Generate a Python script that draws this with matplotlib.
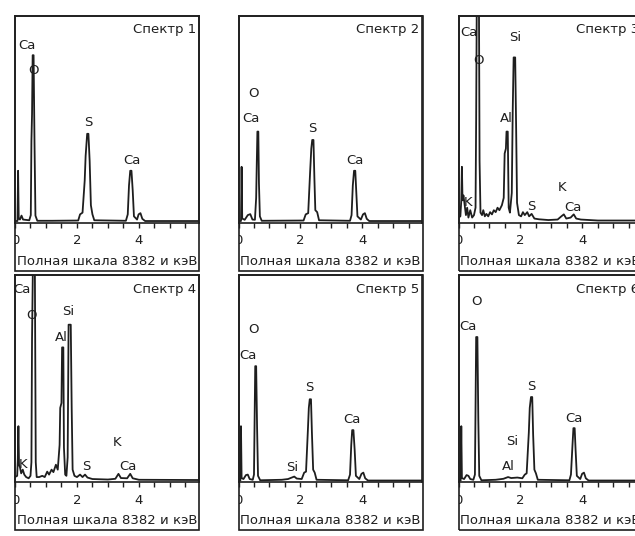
import numpy as np
import matplotlib.pyplot as plt
from matplotlib.patches import Rectangle
from matplotlib.ticker import MultipleLocator

plt.rcParams['font.family'] = ['DejaVu Sans']

# ==========================================
# DATA (keV, counts)
# ==========================================
FULL_SCALE = 8382
E_MAX = 5.94

titles = ["Спектр 1", "Спектр 2", "Спектр 3", "Спектр 4", "Спектр 5", "Спектр 6"]
caption = "Полная шкала 8382 и кэВ"
tick_values = [0, 2, 4]

spectrum_1 = [(0.00, 60), (0.08, 60), (0.10, 2100), (0.12, 160), (0.16, 120), (0.21, 280),
              (0.26, 120), (0.46, 90), (0.51, 300), (0.53, 3300), (0.55, 4400), (0.57, 6790),
              (0.60, 6790), (0.63, 3200), (0.66, 280), (0.72, 70), (1.20, 70), (2.04, 80),
              (2.10, 330), (2.18, 400), (2.25, 1700), (2.28, 2700), (2.33, 3600), (2.37, 3600),
              (2.41, 2500), (2.45, 700), (2.50, 330), (2.56, 90), (3.58, 70), (3.64, 330),
              (3.68, 1500), (3.72, 2100), (3.76, 2100), (3.80, 1300), (3.84, 250), (3.94, 120),
              (3.99, 330), (4.05, 380), (4.11, 150), (4.20, 60), (5.94, 60)]

spectrum_2 = [(0.00, 60), (0.08, 60), (0.10, 2260), (0.12, 160), (0.20, 110), (0.30, 300),
              (0.38, 340), (0.45, 120), (0.53, 110), (0.57, 1000), (0.59, 2400), (0.61, 3690),
              (0.64, 3690), (0.66, 1600), (0.69, 250), (0.75, 70), (2.10, 80), (2.17, 330),
              (2.25, 380), (2.31, 2000), (2.35, 3000), (2.38, 3350), (2.42, 3350), (2.45, 1800),
              (2.48, 500), (2.54, 420), (2.60, 90), (3.60, 70), (3.65, 300), (3.69, 1500),
              (3.73, 2100), (3.77, 2100), (3.80, 1300), (3.84, 250), (3.95, 120), (4.02, 330),
              (4.08, 380), (4.14, 150), (4.22, 60), (5.94, 60)]

spectrum_3 = [(0.00, 200), (0.06, 250), (0.09, 900), (0.11, 2260), (0.13, 900), (0.16, 1100),
              (0.20, 700), (0.24, 300), (0.28, 600), (0.32, 200), (0.38, 500), (0.44, 200),
              (0.50, 300), (0.55, 600), (0.57, 4200), (0.59, 9000), (0.66, 9000), (0.68, 2500),
              (0.71, 400), (0.76, 300), (0.80, 500), (0.85, 250), (0.90, 350), (0.96, 250),
              (1.02, 420), (1.08, 330), (1.14, 500), (1.20, 420), (1.26, 600), (1.32, 500),
              (1.40, 700), (1.46, 1000), (1.49, 2800), (1.53, 3000), (1.55, 3690), (1.59, 3690),
              (1.62, 600), (1.66, 400), (1.72, 1200), (1.75, 4500), (1.78, 6700), (1.83, 6700),
              (1.86, 3900), (1.89, 800), (1.95, 300), (2.02, 250), (2.08, 420), (2.14, 300),
              (2.22, 420), (2.28, 250), (2.36, 350), (2.45, 160), (2.60, 130), (2.90, 100),
              (3.20, 120), (3.32, 250), (3.40, 330), (3.48, 160), (3.62, 200), (3.72, 330),
              (3.80, 160), (3.95, 120), (4.50, 80), (5.94, 80)]

spectrum_4 = [(0.00, 200), (0.07, 250), (0.09, 900), (0.11, 2260), (0.13, 700), (0.16, 600),
              (0.20, 350), (0.25, 500), (0.30, 300), (0.36, 200), (0.44, 150), (0.50, 250),
              (0.53, 800), (0.55, 5800), (0.58, 9000), (0.64, 9000), (0.67, 800), (0.70, 200),
              (0.78, 200), (0.88, 250), (0.96, 200), (1.04, 420), (1.10, 300), (1.18, 500),
              (1.24, 400), (1.32, 700), (1.38, 500), (1.44, 1500), (1.46, 3000), (1.50, 3200),
              (1.52, 5450), (1.56, 5450), (1.58, 1400), (1.62, 300), (1.66, 250), (1.70, 1000),
              (1.73, 6370), (1.80, 6370), (1.83, 3000), (1.86, 500), (1.92, 250), (2.00, 200),
              (2.10, 300), (2.18, 200), (2.26, 300), (2.34, 180), (2.50, 120), (3.00, 100),
              (3.24, 130), (3.34, 330), (3.42, 160), (3.62, 150), (3.72, 330), (3.80, 150),
              (4.00, 90), (5.94, 80)]

spectrum_5 = [(0.00, 60), (0.06, 60), (0.08, 2260), (0.10, 160), (0.16, 120), (0.24, 280),
              (0.30, 300), (0.36, 120), (0.46, 90), (0.50, 300), (0.52, 2500), (0.54, 4690),
              (0.57, 4690), (0.60, 2200), (0.63, 250), (0.70, 70), (1.40, 90), (1.60, 120),
              (1.72, 180), (1.80, 220), (1.88, 140), (2.04, 120), (2.12, 380), (2.18, 420),
              (2.24, 2100), (2.27, 3000), (2.30, 3350), (2.34, 3350), (2.37, 2000), (2.41, 500),
              (2.46, 380), (2.52, 90), (3.54, 70), (3.60, 300), (3.64, 1500), (3.67, 2100),
              (3.71, 2100), (3.75, 1300), (3.79, 250), (3.90, 120), (3.97, 330), (4.03, 380),
              (4.09, 150), (4.18, 60), (5.94, 60)]

spectrum_6 = [(0.00, 60), (0.07, 60), (0.09, 2260), (0.11, 160), (0.18, 120), (0.26, 280),
              (0.32, 250), (0.38, 120), (0.48, 90), (0.53, 300), (0.55, 3000), (0.57, 5870),
              (0.61, 5870), (0.64, 2500), (0.67, 250), (0.74, 70), (1.20, 90), (1.45, 130),
              (1.60, 200), (1.70, 160), (1.90, 180), (2.06, 150), (2.14, 300), (2.20, 350),
              (2.27, 2000), (2.30, 3000), (2.34, 3440), (2.38, 3440), (2.41, 1900), (2.45, 500),
              (2.50, 350), (2.56, 90), (3.58, 70), (3.63, 300), (3.68, 1500), (3.71, 2180),
              (3.75, 2180), (3.78, 1300), (3.82, 250), (3.93, 120), (3.99, 330), (4.05, 380),
              (4.11, 150), (4.20, 60), (5.94, 60)]

# element labels: (text, keV, counts)
labels_1 = [("Ca", 0.37, 7190), ("O", 0.60, 6180), ("S", 2.36, 4070), ("Ca", 3.76, 2530)]
labels_2 = [("O", 0.48, 5245), ("Ca", 0.39, 4230), ("S", 2.39, 3830), ("Ca", 3.76, 2530)]
labels_3 = [("Ca", 0.34, 7715), ("O", 0.64, 6580), ("K", 0.32, 830), ("Al", 1.53, 4230),
            ("Si", 1.82, 7510), ("S", 2.36, 630), ("K", 3.33, 1440), ("Ca", 3.70, 590)]
labels_4 = [("Ca", 0.24, 7780), ("O", 0.54, 6760), ("K", 0.27, 690), ("Al", 1.51, 5870),
            ("Si", 1.72, 6885), ("S", 2.31, 610), ("K", 3.28, 1580), ("Ca", 3.66, 610)]
labels_5 = [("O", 0.48, 6160), ("Ca", 0.32, 5140), ("Si", 1.72, 570), ("S", 2.28, 3810),
            ("Ca", 3.65, 2550)]
labels_6 = [("O", 0.59, 7290), ("Ca", 0.32, 6280), ("Si", 1.72, 1620), ("Al", 1.61, 610),
            ("S", 2.36, 3850), ("Ca", 3.73, 2590)]

spectra = [spectrum_1, spectrum_2, spectrum_3, spectrum_4, spectrum_5, spectrum_6]
labels = [labels_1, labels_2, labels_3, labels_4, labels_5, labels_6]

# ==========================================
# LAYOUT (pixels of the 635x536 picture)
# ==========================================
W, H = 635, 536
col_left = [15, 238.5, 458.5]
panel_w = 184
row_top = [16, 275]
row_axis = [222.5, 482]
row_bottom = [271, 530]

INK = '#1e1e1e'
FS = 9.5

fig = plt.figure(figsize=(W / 100, H / 100), dpi=100)

for i, (spec, labs) in enumerate(zip(spectra, labels)):
    r, c = divmod(i, 3)
    left, top, axis_y, bottom = col_left[c], row_top[r], row_axis[r], row_bottom[r]

    ax = fig.add_axes([left / W, 1 - axis_y / H, panel_w / W, (axis_y - top) / H])
    e, counts = np.array(spec).T
    ax.plot(e, counts, color=INK, lw=1.3)
    ax.set_xlim(0, E_MAX)
    ax.set_ylim(0, FULL_SCALE)
    ax.set_yticks([])
    ax.xaxis.set_major_locator(MultipleLocator(2))
    ax.xaxis.set_minor_locator(MultipleLocator(0.5))
    ax.set_xticks(tick_values)
    ax.set_xticklabels([str(v) for v in tick_values])
    ax.tick_params(axis='x', which='both', direction='out', length=3.5, width=1,
                   color=INK, pad=5, labelsize=FS, labelcolor=INK)
    for sp in ax.spines.values():
        sp.set_linewidth(1.2)
        sp.set_color(INK)

    # outer frame around plot + caption
    frame = Rectangle((left / W, 1 - bottom / H), panel_w / W, (bottom - top) / H,
                      transform=fig.transFigure, fill=False, lw=1.2, ec=INK)
    fig.add_artist(frame)
    for lab in ax.get_xticklabels():
        lab.set_clip_path(frame)

    ax.text(1 - 3 / panel_w, 1 - 14 / (axis_y - top), titles[i], transform=ax.transAxes,
            ha='right', va='center', fontsize=FS, color=INK)
    fig.text((left + panel_w / 2) / W, 1 - (axis_y + 39) / H, caption,
             ha='center', va='center', fontsize=FS, color=INK)

    for name, x, y in labs:
        ax.text(x, y, name, ha='center', va='center', fontsize=FS, color=INK, clip_on=False)

fig.savefig('out.png', dpi=100, facecolor='white')
